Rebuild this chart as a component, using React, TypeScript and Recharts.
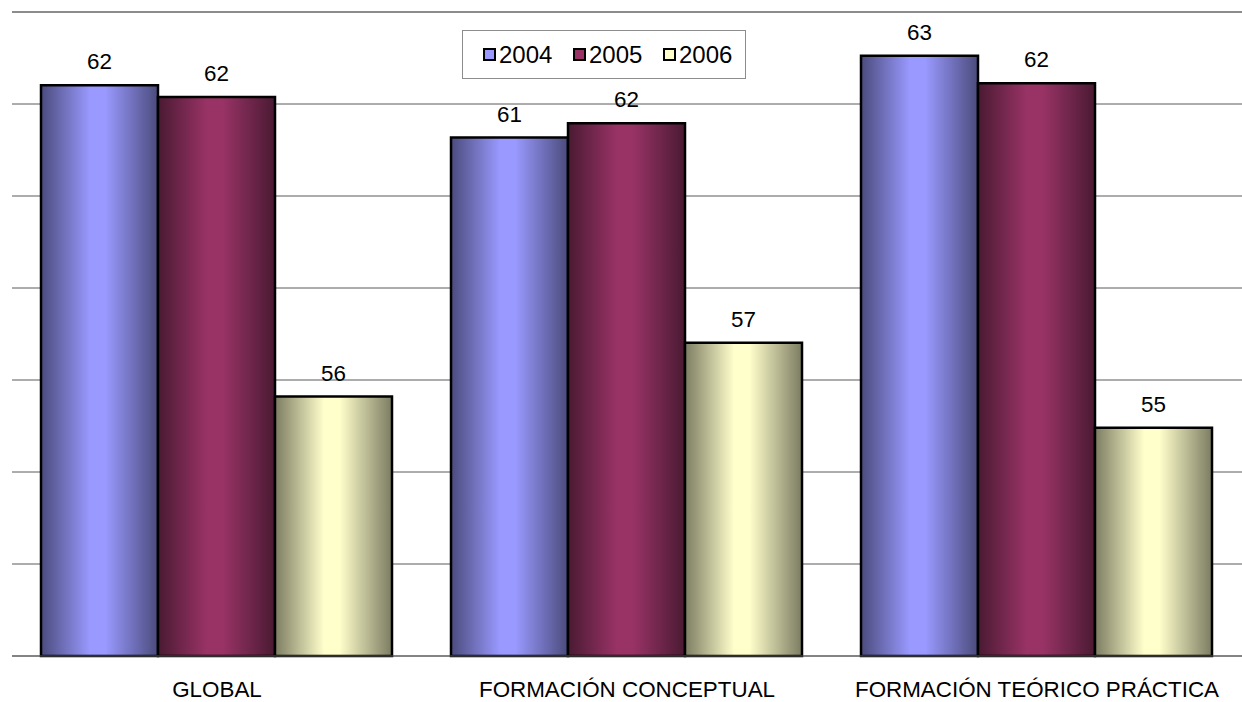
import React from "react";
import {
  BarChart,
  Bar,
  XAxis,
  YAxis,
  CartesianGrid,
  LabelList,
  ReferenceLine,
} from "recharts";

const categories = ["GLOBAL", "FORMACIÓN CONCEPTUAL", "FORMACIÓN TEÓRICO PRÁCTICA"];
const values2004 = [62.41, 61.27, 63.05];
const values2005 = [62.15, 61.58, 62.45];
const values2006 = [55.64, 56.81, 54.96];
const yTicks = [50, 52, 54, 56, 58, 60, 62, 64];

const data = categories.map((name, i) => ({
  name,
  y2004: values2004[i],
  y2005: values2005[i],
  y2006: values2006[i],
}));

const SERIES = [
  { key: "y2004", label: "2004", fill: "#9999ff", dark: "#4b4b7d", grad: "g2004" },
  { key: "y2005", label: "2005", fill: "#993366", dark: "#4a1a32", grad: "g2005" },
  { key: "y2006", label: "2006", fill: "#ffffcc", dark: "#7c7c62", grad: "g2006" },
];

const FONT = '"Liberation Sans", Arial, sans-serif';

// legend drawn as an overlay so it doesn't shrink the plot area
const LegendBox = () => (
  <div
    style={{
      position: "absolute",
      left: 462,
      top: 30,
      width: 284,
      height: 49,
      border: "1px solid #8c8c8c",
      background: "#fff",
      fontFamily: FONT,
      fontSize: 24,
      color: "#000",
      boxSizing: "border-box",
    }}
  >
    {SERIES.map((s, i) => (
      <div
        key={s.key}
        style={{
          position: "absolute",
          left: 20 + i * 90,
          top: 0,
          height: 47,
          display: "flex",
          alignItems: "center",
        }}
      >
        <span
          style={{
            display: "inline-block",
            width: 9,
            height: 9,
            border: "2px solid #000",
            background: s.fill,
            marginRight: 3,
          }}
        />
        <span>{s.label}</span>
      </div>
    ))}
  </div>
);

export default function App() {
  return (
    <div style={{ position: "relative", width: 1242, height: 702, background: "#fff" }}>
      <style>{`body{margin:0}`}</style>
      <BarChart
        width={1242}
        height={702}
        data={data}
        margin={{ top: 12, right: 0, left: 12, bottom: 0 }}
        barCategoryGap={29}
        barGap={0}
      >
        <defs>
          {SERIES.map((s) => (
            <linearGradient key={s.grad} id={s.grad} x1="0" y1="0" x2="1" y2="0">
              <stop offset="0%" stopColor={s.dark} />
              <stop offset="42%" stopColor={s.fill} />
              <stop offset="55%" stopColor={s.fill} />
              <stop offset="100%" stopColor={s.dark} />
            </linearGradient>
          ))}
        </defs>
        <CartesianGrid vertical={false} stroke="#5a5a5a" />
        <XAxis
          xAxisId="t"
          type="number"
          domain={[0, 3]}
          ticks={[0, 1, 2, 3]}
          height={0}
          axisLine={false}
          tickLine={{ stroke: "#5a5a5a" }}
          tickSize={7}
          tickFormatter={() => ""}
        />
        <XAxis
          dataKey="name"
          height={46}
          axisLine={{ stroke: "#5a5a5a" }}
          tickLine={false}
          tickSize={0}
          tickMargin={25}
          tick={{ fill: "#000", fontSize: 22.4, fontFamily: FONT }}
        />
        <YAxis
          width={0}
          domain={[50, 64]}
          ticks={yTicks}
          tickLine={false}
          tickFormatter={() => ""}
          axisLine={{ stroke: "#707070" }}
        />
        <ReferenceLine y={64} stroke="#8c8c8c" strokeWidth={2} />
        {SERIES.map((s) => (
          <Bar
            key={s.key}
            dataKey={s.key}
            name={s.label}
            fill={`url(#${s.grad})`}
            stroke="#000"
            strokeWidth={2.5}
            isAnimationActive={false}
          >
            <LabelList
              dataKey={s.key}
              position="top"
              offset={16}
              formatter={(v: any) => Math.round(Number(v))}
              style={{ fill: "#000", fontSize: 22.4, fontFamily: FONT }}
            />
          </Bar>
        ))}
      </BarChart>
      <LegendBox />
    </div>
  );
}
